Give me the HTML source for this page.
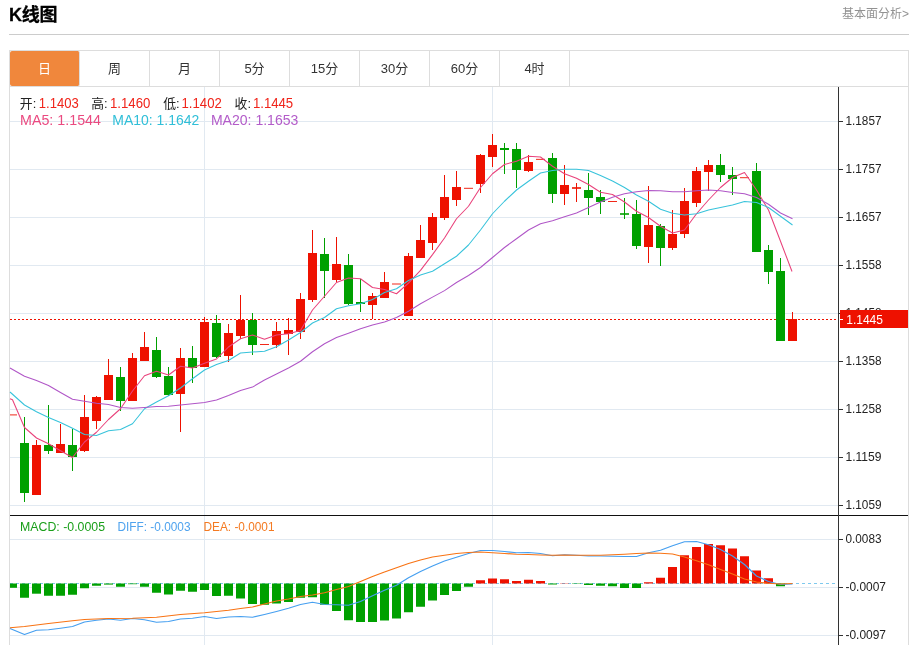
<!DOCTYPE html>
<html lang="zh-CN"><head><meta charset="utf-8"><title>K线图</title>
<style>
html,body{margin:0;padding:0;background:#fff;}
body{width:914px;height:645px;position:relative;overflow:hidden;font-family:"Liberation Sans","Noto Sans CJK SC",sans-serif;}
.title{position:absolute;left:9px;top:1.5px;font-size:18px;line-height:26px;font-weight:bold;color:#000;letter-spacing:-0.3px;-webkit-text-stroke:0.3px #000;}
.more{position:absolute;right:5px;top:3.5px;font-size:12px;line-height:20px;color:#929292;}
.rule{position:absolute;left:9px;top:34px;width:900px;height:1px;background:#ccc;}
.tabs{position:absolute;left:9px;top:50px;width:898px;height:35px;border:1px solid #ddd;}
.tab{float:left;width:69px;height:35px;line-height:36px;border-right:1px solid #ddd;text-align:center;font-size:13px;color:#333;}
.tab.on{background:#f0873c;color:#fff;border-radius:2px;}
.chart{position:absolute;left:9px;top:87px;width:898px;height:558px;border-left:1px solid #ddd;border-right:1px solid #ddd;}
svg{position:absolute;left:0;top:0;}
svg text{font-family:"Liberation Sans","Noto Sans CJK SC",sans-serif;}
</style></head><body>
<div class="title">K线图</div>
<div class="more">基本面分析&gt;</div>
<div class="rule"></div>
<div class="tabs"><div class="tab on">日</div><div class="tab">周</div><div class="tab">月</div><div class="tab">5分</div><div class="tab">15分</div><div class="tab">30分</div><div class="tab">60分</div><div class="tab">4时</div></div>
<div class="chart"></div>
<svg width="914" height="645" viewBox="0 0 914 645">

<g fill="#e1e9f1" shape-rendering="crispEdges">
<rect x="10" y="121" width="828" height="1"/>
<rect x="10" y="169" width="828" height="1"/>
<rect x="10" y="217" width="828" height="1"/>
<rect x="10" y="265" width="828" height="1"/>
<rect x="10" y="313" width="828" height="1"/>
<rect x="10" y="361" width="828" height="1"/>
<rect x="10" y="409" width="828" height="1"/>
<rect x="10" y="457" width="828" height="1"/>
<rect x="10" y="505" width="828" height="1"/>
<rect x="10" y="539" width="828" height="1"/>
<rect x="10" y="587" width="828" height="1"/>
<rect x="10" y="635" width="828" height="1"/>
<rect x="204" y="87" width="1" height="558"/>
<rect x="492" y="87" width="1" height="558"/>
</g>
<line x1="10" y1="319.5" x2="838" y2="319.5" stroke="#ee1100" stroke-width="1" stroke-dasharray="2,2"/>
<g shape-rendering="crispEdges">
<rect x="10" y="414.4" width="7" height="1" fill="#ee1100" fill-opacity="0.9" shape-rendering="geometricPrecision"/>
<rect x="24" y="417" width="1" height="26" fill="#00a000"/>
<rect x="24" y="493" width="1" height="9" fill="#00a000"/>
<rect x="20" y="443" width="9" height="50" fill="#00a000"/>
<rect x="36" y="440" width="1" height="5" fill="#ee1100"/>
<rect x="32" y="445" width="9" height="50" fill="#ee1100"/>
<rect x="48" y="405" width="1" height="40" fill="#00a000"/>
<rect x="48" y="451" width="1" height="3" fill="#00a000"/>
<rect x="44" y="445" width="9" height="6" fill="#00a000"/>
<rect x="60" y="424" width="1" height="20" fill="#ee1100"/>
<rect x="56" y="444" width="9" height="9" fill="#ee1100"/>
<rect x="72" y="429" width="1" height="16" fill="#00a000"/>
<rect x="72" y="457" width="1" height="14" fill="#00a000"/>
<rect x="68" y="445" width="9" height="12" fill="#00a000"/>
<rect x="84" y="395" width="1" height="22" fill="#ee1100"/>
<rect x="84" y="451" width="1" height="1" fill="#ee1100"/>
<rect x="80" y="417" width="9" height="34" fill="#ee1100"/>
<rect x="96" y="396" width="1" height="1" fill="#ee1100"/>
<rect x="96" y="421" width="1" height="8" fill="#ee1100"/>
<rect x="92" y="397" width="9" height="24" fill="#ee1100"/>
<rect x="108" y="359" width="1" height="16" fill="#ee1100"/>
<rect x="104" y="375" width="9" height="25" fill="#ee1100"/>
<rect x="120" y="367" width="1" height="10" fill="#00a000"/>
<rect x="120" y="401" width="1" height="10" fill="#00a000"/>
<rect x="116" y="377" width="9" height="24" fill="#00a000"/>
<rect x="132" y="353" width="1" height="5" fill="#ee1100"/>
<rect x="128" y="358" width="9" height="43" fill="#ee1100"/>
<rect x="144" y="332" width="1" height="15" fill="#ee1100"/>
<rect x="140" y="347" width="9" height="14" fill="#ee1100"/>
<rect x="156" y="337" width="1" height="13" fill="#00a000"/>
<rect x="156" y="377" width="1" height="1" fill="#00a000"/>
<rect x="152" y="350" width="9" height="27" fill="#00a000"/>
<rect x="168" y="367" width="1" height="9" fill="#00a000"/>
<rect x="168" y="395" width="1" height="1" fill="#00a000"/>
<rect x="164" y="376" width="9" height="19" fill="#00a000"/>
<rect x="180" y="348" width="1" height="10" fill="#ee1100"/>
<rect x="180" y="394" width="1" height="38" fill="#ee1100"/>
<rect x="176" y="358" width="9" height="36" fill="#ee1100"/>
<rect x="192" y="346" width="1" height="12" fill="#00a000"/>
<rect x="192" y="368" width="1" height="15" fill="#00a000"/>
<rect x="188" y="358" width="9" height="10" fill="#00a000"/>
<rect x="204" y="317" width="1" height="5" fill="#ee1100"/>
<rect x="200" y="322" width="9" height="45" fill="#ee1100"/>
<rect x="216" y="315" width="1" height="8" fill="#00a000"/>
<rect x="216" y="357" width="1" height="1" fill="#00a000"/>
<rect x="212" y="323" width="9" height="34" fill="#00a000"/>
<rect x="228" y="324" width="1" height="9" fill="#ee1100"/>
<rect x="228" y="356" width="1" height="6" fill="#ee1100"/>
<rect x="224" y="333" width="9" height="23" fill="#ee1100"/>
<rect x="240" y="295" width="1" height="25" fill="#ee1100"/>
<rect x="240" y="336" width="1" height="3" fill="#ee1100"/>
<rect x="236" y="320" width="9" height="16" fill="#ee1100"/>
<rect x="252" y="313" width="1" height="7" fill="#00a000"/>
<rect x="252" y="345" width="1" height="10" fill="#00a000"/>
<rect x="248" y="320" width="9" height="25" fill="#00a000"/>
<rect x="260" y="344" width="9" height="1" fill="#ee1100" fill-opacity="0.9" shape-rendering="geometricPrecision"/>
<rect x="276" y="322" width="1" height="9" fill="#ee1100"/>
<rect x="276" y="345" width="1" height="3" fill="#ee1100"/>
<rect x="272" y="331" width="9" height="14" fill="#ee1100"/>
<rect x="288" y="318" width="1" height="12" fill="#ee1100"/>
<rect x="288" y="334" width="1" height="21" fill="#ee1100"/>
<rect x="284" y="330" width="9" height="4" fill="#ee1100"/>
<rect x="300" y="293" width="1" height="6" fill="#ee1100"/>
<rect x="300" y="332" width="1" height="7" fill="#ee1100"/>
<rect x="296" y="299" width="9" height="33" fill="#ee1100"/>
<rect x="312" y="230" width="1" height="23" fill="#ee1100"/>
<rect x="312" y="300" width="1" height="2" fill="#ee1100"/>
<rect x="308" y="253" width="9" height="47" fill="#ee1100"/>
<rect x="324" y="238" width="1" height="16" fill="#00a000"/>
<rect x="324" y="271" width="1" height="27" fill="#00a000"/>
<rect x="320" y="254" width="9" height="17" fill="#00a000"/>
<rect x="336" y="237" width="1" height="27" fill="#ee1100"/>
<rect x="336" y="280" width="1" height="2" fill="#ee1100"/>
<rect x="332" y="264" width="9" height="16" fill="#ee1100"/>
<rect x="348" y="254" width="1" height="11" fill="#00a000"/>
<rect x="348" y="304" width="1" height="1" fill="#00a000"/>
<rect x="344" y="265" width="9" height="39" fill="#00a000"/>
<rect x="360" y="279" width="1" height="23" fill="#00a000"/>
<rect x="360" y="304" width="1" height="8" fill="#00a000"/>
<rect x="356" y="302" width="9" height="2" fill="#00a000"/>
<rect x="372" y="293" width="1" height="3" fill="#ee1100"/>
<rect x="372" y="305" width="1" height="14" fill="#ee1100"/>
<rect x="368" y="296" width="9" height="9" fill="#ee1100"/>
<rect x="384" y="272" width="1" height="10" fill="#ee1100"/>
<rect x="380" y="282" width="9" height="16" fill="#ee1100"/>
<rect x="392" y="283.5" width="9" height="1" fill="#ee1100" fill-opacity="0.9" shape-rendering="geometricPrecision"/>
<rect x="408" y="253" width="1" height="3" fill="#ee1100"/>
<rect x="404" y="256" width="9" height="60" fill="#ee1100"/>
<rect x="420" y="225" width="1" height="15" fill="#ee1100"/>
<rect x="416" y="240" width="9" height="18" fill="#ee1100"/>
<rect x="432" y="213" width="1" height="4" fill="#ee1100"/>
<rect x="432" y="243" width="1" height="7" fill="#ee1100"/>
<rect x="428" y="217" width="9" height="26" fill="#ee1100"/>
<rect x="444" y="175" width="1" height="22" fill="#ee1100"/>
<rect x="444" y="218" width="1" height="2" fill="#ee1100"/>
<rect x="440" y="197" width="9" height="21" fill="#ee1100"/>
<rect x="456" y="171" width="1" height="16" fill="#ee1100"/>
<rect x="456" y="200" width="1" height="6" fill="#ee1100"/>
<rect x="452" y="187" width="9" height="13" fill="#ee1100"/>
<rect x="464" y="187.8" width="9" height="1" fill="#ee1100" fill-opacity="0.9" shape-rendering="geometricPrecision"/>
<rect x="480" y="154" width="1" height="1" fill="#ee1100"/>
<rect x="480" y="184" width="1" height="9" fill="#ee1100"/>
<rect x="476" y="155" width="9" height="29" fill="#ee1100"/>
<rect x="492" y="134" width="1" height="11" fill="#ee1100"/>
<rect x="492" y="157" width="1" height="10" fill="#ee1100"/>
<rect x="488" y="145" width="9" height="12" fill="#ee1100"/>
<rect x="504" y="143" width="1" height="5" fill="#00a000"/>
<rect x="504" y="150" width="1" height="24" fill="#00a000"/>
<rect x="500" y="148" width="9" height="2" fill="#00a000"/>
<rect x="516" y="143" width="1" height="6" fill="#00a000"/>
<rect x="516" y="170" width="1" height="18" fill="#00a000"/>
<rect x="512" y="149" width="9" height="21" fill="#00a000"/>
<rect x="528" y="155" width="1" height="7" fill="#ee1100"/>
<rect x="528" y="171" width="1" height="1" fill="#ee1100"/>
<rect x="524" y="162" width="9" height="9" fill="#ee1100"/>
<rect x="536" y="158.85" width="9" height="1" fill="#ee1100" fill-opacity="0.9" shape-rendering="geometricPrecision"/>
<rect x="552" y="153" width="1" height="5" fill="#00a000"/>
<rect x="552" y="194" width="1" height="9" fill="#00a000"/>
<rect x="548" y="158" width="9" height="36" fill="#00a000"/>
<rect x="564" y="165" width="1" height="20" fill="#ee1100"/>
<rect x="564" y="194" width="1" height="11" fill="#ee1100"/>
<rect x="560" y="185" width="9" height="9" fill="#ee1100"/>
<rect x="576" y="183" width="1" height="19" fill="#ee1100"/>
<rect x="572" y="187" width="9" height="2" fill="#ee1100" fill-opacity="0.8"/>
<rect x="588" y="173" width="1" height="17" fill="#00a000"/>
<rect x="588" y="198" width="1" height="17" fill="#00a000"/>
<rect x="584" y="190" width="9" height="8" fill="#00a000"/>
<rect x="600" y="190" width="1" height="7" fill="#00a000"/>
<rect x="600" y="202" width="1" height="12" fill="#00a000"/>
<rect x="596" y="197" width="9" height="5" fill="#00a000"/>
<rect x="608" y="201" width="9" height="1" fill="#ee1100" fill-opacity="0.9" shape-rendering="geometricPrecision"/>
<rect x="624" y="198" width="1" height="21" fill="#00a000"/>
<rect x="620" y="213" width="9" height="2" fill="#00a000" fill-opacity="0.8"/>
<rect x="636" y="200" width="1" height="14" fill="#00a000"/>
<rect x="636" y="246" width="1" height="3" fill="#00a000"/>
<rect x="632" y="214" width="9" height="32" fill="#00a000"/>
<rect x="648" y="186" width="1" height="39" fill="#ee1100"/>
<rect x="648" y="247" width="1" height="16" fill="#ee1100"/>
<rect x="644" y="225" width="9" height="22" fill="#ee1100"/>
<rect x="660" y="224" width="1" height="2" fill="#00a000"/>
<rect x="660" y="248" width="1" height="18" fill="#00a000"/>
<rect x="656" y="226" width="9" height="22" fill="#00a000"/>
<rect x="672" y="210" width="1" height="24" fill="#ee1100"/>
<rect x="672" y="248" width="1" height="2" fill="#ee1100"/>
<rect x="668" y="234" width="9" height="14" fill="#ee1100"/>
<rect x="684" y="188" width="1" height="13" fill="#ee1100"/>
<rect x="684" y="234" width="1" height="4" fill="#ee1100"/>
<rect x="680" y="201" width="9" height="33" fill="#ee1100"/>
<rect x="696" y="167" width="1" height="4" fill="#ee1100"/>
<rect x="696" y="203" width="1" height="4" fill="#ee1100"/>
<rect x="692" y="171" width="9" height="32" fill="#ee1100"/>
<rect x="708" y="160" width="1" height="5" fill="#ee1100"/>
<rect x="708" y="172" width="1" height="19" fill="#ee1100"/>
<rect x="704" y="165" width="9" height="7" fill="#ee1100"/>
<rect x="720" y="154" width="1" height="11" fill="#00a000"/>
<rect x="720" y="175" width="1" height="7" fill="#00a000"/>
<rect x="716" y="165" width="9" height="10" fill="#00a000"/>
<rect x="732" y="167" width="1" height="8" fill="#00a000"/>
<rect x="732" y="179" width="1" height="16" fill="#00a000"/>
<rect x="728" y="175" width="9" height="4" fill="#00a000"/>
<rect x="740" y="177.2" width="9" height="1" fill="#ee1100" fill-opacity="0.9" shape-rendering="geometricPrecision"/>
<rect x="756" y="163" width="1" height="8" fill="#00a000"/>
<rect x="752" y="171" width="9" height="81" fill="#00a000"/>
<rect x="768" y="245" width="1" height="5" fill="#00a000"/>
<rect x="768" y="272" width="1" height="12" fill="#00a000"/>
<rect x="764" y="250" width="9" height="22" fill="#00a000"/>
<rect x="780" y="258" width="1" height="13" fill="#00a000"/>
<rect x="776" y="271" width="9" height="70" fill="#00a000"/>
<rect x="792" y="312" width="1" height="7" fill="#ee1100"/>
<rect x="788" y="319" width="9" height="22" fill="#ee1100"/>
</g>
<polyline fill="none" stroke="#e9427b" stroke-width="1.05" stroke-linejoin="round" points="10,398.7 12.5,399.8 24.5,427.5 36.5,438 48.5,443.75 60.5,450.75 72.5,457.5 84.5,442 96.5,432.25 108.5,419.5 120.5,408.75 132.5,391 144.5,375.75 156.5,371.25 168.5,375 180.5,366.25 192.5,368 204.5,363.25 216.5,359 228.5,347 240.5,338.75 252.5,335 264.5,339.25 276.5,335 288.5,333.75 300.5,330.5 312.5,310 324.5,296.25 336.5,282.5 348.5,278 360.5,278.75 372.5,287.5 384.5,289.5 396.5,293.75 408.5,283.2 420.5,270.4 432.5,254.6 444.5,238 456.5,218.75 468.5,206.25 480.5,187.5 492.5,173.75 504.5,164.5 516.5,161.25 528.5,156.25 540.5,157 552.5,166.25 564.5,173.75 576.5,178.25 588.5,184.5 600.5,192.25 612.5,194.5 624.5,202 636.5,211.25 648.5,217.5 660.5,226.25 672.5,233 684.5,230 696.5,213.75 708.5,200 720.5,187.5 732.5,177.5 744.5,172.5 756.5,190 768.5,210 780.5,241.25 792,271.5"/>
<polyline fill="none" stroke="#38c3db" stroke-width="1.05" stroke-linejoin="round" points="10,392 24.5,405 36.5,411.75 48.5,417.5 60.5,422.5 72.5,428.25 84.5,434.5 96.5,435.5 108.5,430.75 120.5,429.5 132.5,423.75 144.5,408.75 156.5,402 168.5,395.75 180.5,388 192.5,378.75 204.5,370 216.5,364.5 228.5,360.5 240.5,353 252.5,352 264.5,351.25 276.5,346.75 288.5,340 300.5,332.5 312.5,323 324.5,317.5 336.5,308.75 348.5,305.75 360.5,303.75 372.5,299.5 384.5,292.5 396.5,288.8 408.5,280.5 420.5,275 432.5,271.25 444.5,263.75 456.5,256.25 468.5,245 480.5,230 492.5,213.75 504.5,201.25 516.5,190 528.5,181.25 540.5,173 552.5,170.5 564.5,169.25 576.5,169.25 588.5,170.5 600.5,175.5 612.5,181 624.5,187.5 636.5,195 648.5,201.25 660.5,209.25 672.5,213.25 684.5,215 696.5,213.75 708.5,210 720.5,207.5 732.5,205 744.5,201.5 756.5,202.5 768.5,207.5 780.5,216.25 792.5,225"/>
<polyline fill="none" stroke="#b056c7" stroke-width="1.05" stroke-linejoin="round" points="10,368 24.5,376.25 36.5,380.5 48.5,385.5 60.5,392.5 72.5,399.25 84.5,401.25 96.5,403.25 108.5,404.5 120.5,407.5 132.5,408.25 144.5,407.5 156.5,406.5 168.5,406.25 180.5,405 192.5,403.75 204.5,402.5 216.5,400 228.5,395.5 240.5,390.5 252.5,387.1 264.5,380 276.5,374 288.5,368 300.5,361.25 312.5,351.75 324.5,343.75 336.5,337.5 348.5,333.25 360.5,328.75 372.5,325 384.5,322 396.5,317.5 408.5,311.25 420.5,303.75 432.5,297.1 444.5,290.6 456.5,282.5 468.5,275.5 480.5,267.5 492.5,257.5 504.5,247.5 516.5,238.75 528.5,230 540.5,223.75 552.5,220.75 564.5,216.75 576.5,213 588.5,207.5 600.5,202 612.5,197.25 624.5,193.75 636.5,191.75 648.5,190.5 660.5,190.75 672.5,191.75 684.5,191.75 696.5,190.75 708.5,190 720.5,190.75 732.5,192.5 744.5,193.75 756.5,197.5 768.5,204.25 780.5,213 792.5,218.75"/>
<line x1="10" y1="583.5" x2="838" y2="583.5" stroke="#7ec9ee" stroke-width="1.2" stroke-dasharray="3,3"/>
<g>
<rect x="10" y="583.5" width="7" height="4.3" fill="#00a000"/>
<rect x="20" y="583.5" width="9" height="14.25" fill="#00a000"/>
<rect x="32" y="583.5" width="9" height="10.2" fill="#00a000"/>
<rect x="44" y="583.5" width="9" height="12.25" fill="#00a000"/>
<rect x="56" y="583.5" width="9" height="12.25" fill="#00a000"/>
<rect x="68" y="583.5" width="9" height="11.25" fill="#00a000"/>
<rect x="80" y="583.5" width="9" height="4.75" fill="#00a000"/>
<rect x="92" y="583.5" width="9" height="2.25" fill="#00a000"/>
<rect x="104" y="583.5" width="9" height="1.1" fill="#00a000"/>
<rect x="116" y="583.5" width="9" height="3.25" fill="#00a000"/>
<rect x="128" y="583.5" width="9" height="0.7" fill="#00a000"/>
<rect x="140" y="583.5" width="9" height="3.25" fill="#00a000"/>
<rect x="152" y="583.5" width="9" height="9.25" fill="#00a000"/>
<rect x="164" y="583.5" width="9" height="11" fill="#00a000"/>
<rect x="176" y="583.5" width="9" height="7.25" fill="#00a000"/>
<rect x="188" y="583.5" width="9" height="8.25" fill="#00a000"/>
<rect x="200" y="583.5" width="9" height="6.5" fill="#00a000"/>
<rect x="212" y="583.5" width="9" height="12.5" fill="#00a000"/>
<rect x="224" y="583.5" width="9" height="12.25" fill="#00a000"/>
<rect x="236" y="583.5" width="9" height="15" fill="#00a000"/>
<rect x="248" y="583.5" width="9" height="20.5" fill="#00a000"/>
<rect x="260" y="583.5" width="9" height="21.25" fill="#00a000"/>
<rect x="272" y="583.5" width="9" height="20" fill="#00a000"/>
<rect x="284" y="583.5" width="9" height="18.5" fill="#00a000"/>
<rect x="296" y="583.5" width="9" height="14.25" fill="#00a000"/>
<rect x="308" y="583.5" width="9" height="13.75" fill="#00a000"/>
<rect x="320" y="583.5" width="9" height="21.25" fill="#00a000"/>
<rect x="332" y="583.5" width="9" height="27.5" fill="#00a000"/>
<rect x="344" y="583.5" width="9" height="36.75" fill="#00a000"/>
<rect x="356" y="583.5" width="9" height="38.5" fill="#00a000"/>
<rect x="368" y="583.5" width="9" height="38.5" fill="#00a000"/>
<rect x="380" y="583.5" width="9" height="37" fill="#00a000"/>
<rect x="392" y="583.5" width="9" height="35" fill="#00a000"/>
<rect x="404" y="583.5" width="9" height="28.75" fill="#00a000"/>
<rect x="416" y="583.5" width="9" height="23.25" fill="#00a000"/>
<rect x="428" y="583.5" width="9" height="17" fill="#00a000"/>
<rect x="440" y="583.5" width="9" height="11.5" fill="#00a000"/>
<rect x="452" y="583.5" width="9" height="7.5" fill="#00a000"/>
<rect x="464" y="583.5" width="9" height="3.25" fill="#00a000"/>
<rect x="476" y="580.25" width="9" height="3.25" fill="#ee1100"/>
<rect x="488" y="578.5" width="9" height="5" fill="#ee1100"/>
<rect x="500" y="579.25" width="9" height="4.25" fill="#ee1100"/>
<rect x="512" y="581" width="9" height="2.5" fill="#ee1100"/>
<rect x="524" y="579.75" width="9" height="3.75" fill="#ee1100"/>
<rect x="536" y="581" width="9" height="2.5" fill="#ee1100"/>
<rect x="548" y="583.5" width="9" height="1" fill="#00a000"/>
<rect x="560" y="583.2" width="9" height="0.3" fill="#ee1100"/>
<rect x="572" y="583.5" width="9" height="0.4" fill="#00a000"/>
<rect x="584" y="583.5" width="9" height="1.5" fill="#00a000"/>
<rect x="596" y="583.5" width="9" height="2.25" fill="#00a000"/>
<rect x="608" y="583.5" width="9" height="2.75" fill="#00a000"/>
<rect x="620" y="583.5" width="9" height="4.5" fill="#00a000"/>
<rect x="632" y="583.5" width="9" height="4.5" fill="#00a000"/>
<rect x="644" y="582.25" width="9" height="1.25" fill="#ee1100"/>
<rect x="656" y="577.75" width="9" height="5.75" fill="#ee1100"/>
<rect x="668" y="567" width="9" height="16.5" fill="#ee1100"/>
<rect x="680" y="555.25" width="9" height="28.25" fill="#ee1100"/>
<rect x="692" y="547" width="9" height="36.5" fill="#ee1100"/>
<rect x="704" y="544" width="9" height="39.5" fill="#ee1100"/>
<rect x="716" y="545.25" width="9" height="38.25" fill="#ee1100"/>
<rect x="728" y="548.5" width="9" height="35" fill="#ee1100"/>
<rect x="740" y="556.25" width="9" height="27.25" fill="#ee1100"/>
<rect x="752" y="570.5" width="9" height="13" fill="#ee1100"/>
<rect x="764" y="578.25" width="9" height="5.25" fill="#ee1100"/>
<rect x="776" y="583.5" width="9" height="2.75" fill="#00a000"/>
</g>
<polyline fill="none" stroke="#459ff0" stroke-width="1.2" stroke-linejoin="round" points="10,628.5 24.5,634.5 36.5,630.25 48.5,629.75 60.5,628.25 72.5,626.5 84.5,622 96.5,620.25 108.5,619 120.5,620.25 132.5,618.5 144.5,619.75 156.5,622.25 168.5,621.5 180.5,619 192.5,618.25 204.5,616.5 216.5,618.5 228.5,617 240.5,616.5 252.5,617.25 264.5,614.5 276.5,611.5 288.5,608.25 300.5,604.5 312.5,602.25 324.5,604.5 336.5,604.75 348.5,605.25 360.5,601.5 372.5,595.75 384.5,590.25 396.5,585.25 408.5,577.75 420.5,571.5 432.5,566 444.5,561 456.5,557.25 468.5,553.5 480.5,550.5 492.5,550.5 504.5,551.5 516.5,552.75 528.5,552.5 540.5,553.5 552.5,555.75 564.5,554.75 576.5,555.25 588.5,556 600.5,556 612.5,556.25 624.5,556.5 636.5,556.5 648.5,552.75 660.5,550.25 672.5,545.75 684.5,541.75 696.5,541.5 708.5,544.75 720.5,549.5 732.5,556 744.5,564.5 756.5,576 768.5,581.5 780.5,584.5 792.5,584"/>
<polyline fill="none" stroke="#f87314" stroke-width="1.2" stroke-linejoin="round" points="10,627.75 24.5,626.5 48.5,623.5 72.5,620.75 84.5,619.5 108.5,618.5 132.5,618.25 156.5,617.25 180.5,614.5 204.5,612.75 216.5,611.5 228.5,610.25 240.5,608.5 252.5,607 264.5,604 276.5,601 288.5,599 300.5,596.5 312.5,595 324.5,592.75 336.5,589.5 348.5,586.5 360.5,581.5 372.5,576.5 384.5,572 396.5,567.75 408.5,563.5 420.5,560 432.5,557 444.5,555.25 456.5,553.5 468.5,552.5 480.5,552 492.5,552.75 504.5,553.5 516.5,554.25 528.5,554.5 540.5,555 552.5,555.25 564.5,555 576.5,555.25 588.5,555.25 600.5,555.25 612.5,554.75 624.5,554.25 636.5,553.5 648.5,553 660.5,553.25 672.5,554 684.5,557 696.5,560.75 708.5,564.75 720.5,569.5 732.5,574 744.5,579 756.5,582 768.5,583.25 780.5,584 792.5,583.5"/>
<g shape-rendering="crispEdges">
<rect x="10" y="515" width="898" height="1" fill="#111"/>
<rect x="838" y="87" width="1" height="558" fill="#333"/>
<rect x="839" y="121" width="4" height="1" fill="#333"/>
<rect x="839" y="169" width="4" height="1" fill="#333"/>
<rect x="839" y="217" width="4" height="1" fill="#333"/>
<rect x="839" y="265" width="4" height="1" fill="#333"/>
<rect x="839" y="313" width="4" height="1" fill="#333"/>
<rect x="839" y="361" width="4" height="1" fill="#333"/>
<rect x="839" y="409" width="4" height="1" fill="#333"/>
<rect x="839" y="457" width="4" height="1" fill="#333"/>
<rect x="839" y="505" width="4" height="1" fill="#333"/>
<rect x="839" y="539" width="4" height="1" fill="#333"/>
<rect x="839" y="587" width="4" height="1" fill="#333"/>
<rect x="839" y="635" width="4" height="1" fill="#333"/>
</g>
<g font-size="12.4" fill="#222">
<text x="845.5" y="125.4" textLength="36" lengthAdjust="spacingAndGlyphs">1.1857</text>
<text x="845.5" y="173.4" textLength="36" lengthAdjust="spacingAndGlyphs">1.1757</text>
<text x="845.5" y="221.4" textLength="36" lengthAdjust="spacingAndGlyphs">1.1657</text>
<text x="845.5" y="269.4" textLength="36" lengthAdjust="spacingAndGlyphs">1.1558</text>
<text x="845.5" y="317.4" textLength="36" lengthAdjust="spacingAndGlyphs">1.1458</text>
<text x="845.5" y="365.4" textLength="36" lengthAdjust="spacingAndGlyphs">1.1358</text>
<text x="845.5" y="413.4" textLength="36" lengthAdjust="spacingAndGlyphs">1.1258</text>
<text x="845.5" y="461.4" textLength="36" lengthAdjust="spacingAndGlyphs">1.1159</text>
<text x="845.5" y="509.4" textLength="36" lengthAdjust="spacingAndGlyphs">1.1059</text>
<text x="845.5" y="543.4" textLength="36" lengthAdjust="spacingAndGlyphs">0.0083</text>
<text x="845.5" y="591.4" textLength="40.5" lengthAdjust="spacingAndGlyphs">-0.0007</text>
<text x="845.5" y="639.4" textLength="40.5" lengthAdjust="spacingAndGlyphs">-0.0097</text>
</g>
<rect x="840" y="310" width="68" height="18" fill="#ee1100" shape-rendering="crispEdges"/>
<rect x="839" y="319" width="4" height="1" fill="#fff" shape-rendering="crispEdges"/>
<text x="846.2" y="323.6" font-size="12.4" fill="#fff" textLength="36.8" lengthAdjust="spacingAndGlyphs">1.1445</text>
<text x="19.8" y="107.9" font-size="12.6" fill="#222" textLength="16.4" lengthAdjust="spacingAndGlyphs">开:</text>
<text x="38.8" y="107.9" font-size="13.8" fill="#f0241a" textLength="40" lengthAdjust="spacingAndGlyphs">1.1403</text>
<text x="91.2" y="107.9" font-size="12.6" fill="#222" textLength="16.4" lengthAdjust="spacingAndGlyphs">高:</text>
<text x="110" y="107.9" font-size="13.8" fill="#f0241a" textLength="40.3" lengthAdjust="spacingAndGlyphs">1.1460</text>
<text x="163.2" y="107.9" font-size="12.6" fill="#222" textLength="16.4" lengthAdjust="spacingAndGlyphs">低:</text>
<text x="181.5" y="107.9" font-size="13.8" fill="#f0241a" textLength="40.3" lengthAdjust="spacingAndGlyphs">1.1402</text>
<text x="234.6" y="107.9" font-size="12.6" fill="#222" textLength="16.4" lengthAdjust="spacingAndGlyphs">收:</text>
<text x="252.9" y="107.9" font-size="13.8" fill="#f0241a" textLength="40.3" lengthAdjust="spacingAndGlyphs">1.1445</text>
<text x="20" y="125.4" font-size="13.8" fill="#ea4a80" textLength="81" lengthAdjust="spacingAndGlyphs">MA5: 1.1544</text>
<text x="112.3" y="125.4" font-size="13.8" fill="#30bfd8" textLength="87" lengthAdjust="spacingAndGlyphs">MA10: 1.1642</text>
<text x="210.9" y="125.4" font-size="13.8" fill="#b35cc9" textLength="87.5" lengthAdjust="spacingAndGlyphs">MA20: 1.1653</text>
<text x="20" y="530.6" font-size="13.6" fill="#1a9f1a" textLength="85" lengthAdjust="spacingAndGlyphs">MACD: -0.0005</text>
<text x="117.5" y="530.6" font-size="13.6" fill="#4fa3ee" textLength="73" lengthAdjust="spacingAndGlyphs">DIFF: -0.0003</text>
<text x="203.5" y="530.6" font-size="13.6" fill="#f47a22" textLength="71" lengthAdjust="spacingAndGlyphs">DEA: -0.0001</text>
</svg></body></html>
